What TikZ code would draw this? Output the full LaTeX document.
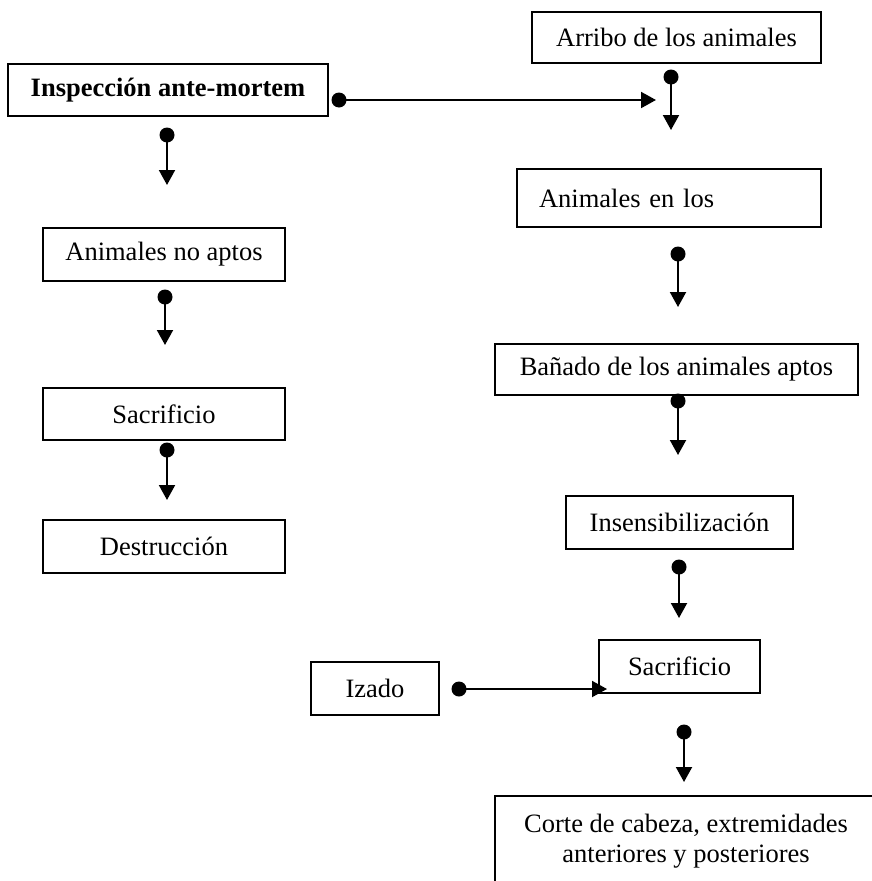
\documentclass[tikz,border=0pt]{standalone}
\usepackage{fontspec}
\setmainfont{Liberation Serif}
\usetikzlibrary{arrows.meta}
\begin{document}
\begin{tikzpicture}[x=1pt,y=-1pt,
  box/.style={draw, line width=1.6pt, inner sep=0pt, font=\fontsize{26.5}{32}\selectfont},
  dotnode/.style={circle, fill=black, inner sep=0pt, minimum size=15pt},
  arr/.style={line width=2pt, -{Triangle[width=16pt,length=15pt]}}
]
\clip (0,0) rectangle (872,881);
\useasboundingbox (0,0) rectangle (872,881);
% left column
\node[box, minimum width=320pt, minimum height=52pt, font=\fontsize{26.5}{32}\selectfont\bfseries] (insp) at (168,90) {Inspección ante-mortem};
\node[box, minimum width=242pt, minimum height=53pt] (noaptos) at (164,254.5) {Animales no aptos};
\node[box, minimum width=242pt, minimum height=52pt] (sacL) at (164,414) {Sacrificio};
\node[box, minimum width=242pt, minimum height=53pt] (destr) at (164,546.5) {Destrucción};
% right column
\node[box, minimum width=289pt, minimum height=51pt] (arribo) at (676.5,37.5) {Arribo de los animales};
\node[box, minimum height=58pt, text width=260pt, inner xsep=22pt, align=left] (enlos) at (669,198) {Animales en los};
\node[box, minimum width=363pt, minimum height=51pt] (banado) at (676.5,369.5) {Bañado de los animales aptos};
\node[box, minimum width=227pt, minimum height=53pt] (insens) at (679.5,522.5) {Insensibilización};
\node[box, minimum width=161pt, minimum height=53pt] (sacR) at (679.5,666.5) {Sacrificio};
\node[box, minimum width=128pt, minimum height=53pt] (izado) at (375,688.5) {Izado};
\node[font=\fontsize{26.5}{30}\selectfont, align=center, inner sep=0pt] (corte) at (686,841) {Corte de cabeza, extremidades\\anteriores y posteriores};
\draw[line width=1.6pt] (495,900) |- (900,796);
% connectors
\node[dotnode] (d0) at (339,100) {};
\coordinate (t0) at (656,100);
\draw[arr] (d0.center) -- (t0);
\node[dotnode] (d1) at (671,77) {};
\coordinate (t1) at (671,130);
\draw[arr] (d1.center) -- (t1);
\node[dotnode] (d2) at (167,135) {};
\coordinate (t2) at (167,185);
\draw[arr] (d2.center) -- (t2);
\node[dotnode] (d3) at (165,297) {};
\coordinate (t3) at (165,345);
\draw[arr] (d3.center) -- (t3);
\node[dotnode] (d4) at (167,450) {};
\coordinate (t4) at (167,500);
\draw[arr] (d4.center) -- (t4);
\node[dotnode] (d5) at (678,254) {};
\coordinate (t5) at (678,307);
\draw[arr] (d5.center) -- (t5);
\node[dotnode] (d6) at (678,401) {};
\coordinate (t6) at (678,455);
\draw[arr] (d6.center) -- (t6);
\node[dotnode] (d7) at (679,567) {};
\coordinate (t7) at (679,618);
\draw[arr] (d7.center) -- (t7);
\node[dotnode] (d8) at (459,689) {};
\coordinate (t8) at (607,689);
\draw[arr] (d8.center) -- (t8);
\node[dotnode] (d9) at (684,732) {};
\coordinate (t9) at (684,782);
\draw[arr] (d9.center) -- (t9);
\end{tikzpicture}
\end{document}
